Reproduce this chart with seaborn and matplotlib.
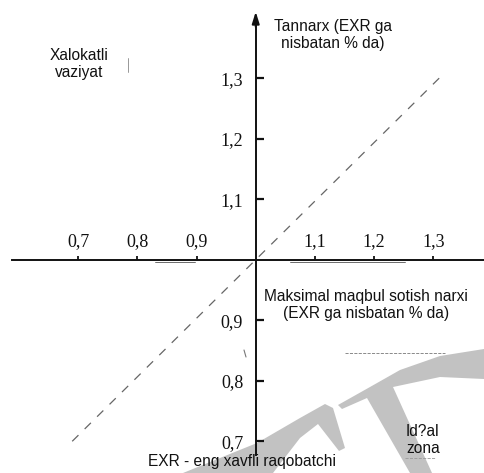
import matplotlib
matplotlib.use("Agg")
import matplotlib.pyplot as plt
import matplotlib.transforms as mtransforms
from matplotlib.patches import Polygon
import pandas as pd
import seaborn as sns

# Axis ticks (EXR = 1,0 where the axes cross)
x_ticks = [0.7, 0.8, 0.9, 1.1, 1.2, 1.3]
y_ticks = [0.7, 0.8, 0.9, 1.1, 1.2, 1.3]
x_tick_labels = ["0,7", "0,8", "0,9", "1,1", "1,2", "1,3"]
y_tick_labels = ["0,7", "0,8", "0,9", "1,1", "1,2", "1,3"]

# Dashed diagonal: price = cost
diag_x = [0.69, 1.32]
diag_y = [0.70, 1.31]

# Labels
label_cost = "Tannarx (EXR ga\nnisbatan % da)"
label_price = "Maksimal maqbul sotish narxi\n(EXR ga nisbatan % da)"
label_danger = "Xalokatli\nvaziyat"
label_ideal = "Id?al\nzona"
label_rival = "EXR - eng xavfli raqobatchi"

# Watermark outline in image pixels (x right, y down)
wm_left = [(183, 473), (220, 458), (257, 443), (300, 418), (325, 404),
           (333, 408), (345, 448), (339, 451), (318, 424), (300, 438),
           (273, 473)]
wm_right = [(338, 405), (370, 387), (400, 370), (440, 356), (484, 349),
            (484, 379), (440, 377), (393, 387), (432, 473), (410, 473),
            (367, 398), (342, 409)]

sns.set_style("white")
plt.rcParams["font.family"] = ["Liberation Sans", "DejaVu Sans"]

W, H = 484, 473
fig = plt.figure(figsize=(W / 100, H / 100), dpi=100)
ax = fig.add_axes([0, 0, 1, 1])
px = mtransforms.Affine2D().scale(1 / W, -1 / H).translate(0, 1) + fig.transFigure

# watermark (under everything)
for pts in (wm_left, wm_right):
    ax.add_patch(Polygon(pts, closed=True, transform=px, facecolor="#c2c2c2",
                         edgecolor="none", zorder=0.5, clip_on=False))

# diagonal
diag = pd.DataFrame({"x": diag_x, "y": diag_y})
sns.lineplot(data=diag, x="x", y="y", ax=ax, color="#666666", lw=0.9,
             dashes=False, zorder=2)
ax.lines[-1].set_dashes((7, 7))

# limits
ax.set_xlim(0.568, 1.3856)
ax.set_ylim(0.6476, 1.4294)
ax.set_xlabel("")
ax.set_ylabel("")

# axes through (1, 1)
ax.spines["right"].set_visible(False)
ax.spines["bottom"].set_visible(False)
ax.spines["top"].set_position(("data", 1.0))
ax.spines["left"].set_position(("data", 1.0))
ax.spines["top"].set_bounds(0.588, 1.3856)
ax.spines["left"].set_bounds(0.677, 1.395)
for side in ("top", "left"):
    ax.spines[side].set_linewidth(1.4)
    ax.spines[side].set_color("#111111")
    ax.spines[side].set_zorder(3)

ax.xaxis.set_ticks_position("top")
ax.yaxis.set_ticks_position("left")
ax.set_xticks(x_ticks)
ax.set_xticklabels(x_tick_labels)
ax.set_yticks(y_ticks)
ax.set_yticklabels(y_tick_labels)
ax.tick_params(axis="x", direction="out", length=3, width=1.3, pad=4,
               colors="#111111", labelsize=13)
ax.tick_params(axis="y", direction="in", length=6, width=1.6, pad=9,
               colors="#111111", labelsize=13)
for lab in ax.get_xticklabels() + ax.get_yticklabels():
    lab.set_family("Liberation Serif")

# arrow on the vertical axis
ax.annotate("", xy=(1.0, 1.41), xytext=(1.0, 1.385),
            arrowprops=dict(arrowstyle="-|>,head_length=0.7,head_width=0.22",
                            color="#111111", lw=1.4, shrinkA=0, shrinkB=0))

# texts
txt = dict(fontsize=11.2, color="#111111", linespacing=1.12, zorder=4)
ax.text(1.1306, 1.3716, label_cost, ha="center", va="center", **txt)
ax.text(0.7015, 1.3236, label_danger, ha="center", va="center", **txt)
ax.text(1.1863, 0.9253, label_price, ha="center", va="center", **txt)
ax.text(1.2539, 0.7021, label_ideal, ha="left", va="center", **txt)
ax.text(0.9769, 0.6658, label_rival, ha="center", va="center", **txt)

# faint scan marks from the source page
marks = [
    ([345, 445], [353, 353], "--", 0.6, "#777777"),
    ([405, 435], [458, 458], "--", 0.6, "#999999"),
    ([128, 128], [58, 72], "-", 0.6, "#888888"),
    ([244, 246], [350, 357], "-", 0.8, "#777777"),
    ([155, 195], [262, 262], "-", 0.6, "#555555"),
    ([290, 405], [262, 262], "-", 0.6, "#555555"),
]
for mx, my, ls, lw, c in marks:
    ax.plot(mx, my, ls=ls, lw=lw, color=c, transform=px, zorder=2)

fig.savefig("out.png", dpi=100)
